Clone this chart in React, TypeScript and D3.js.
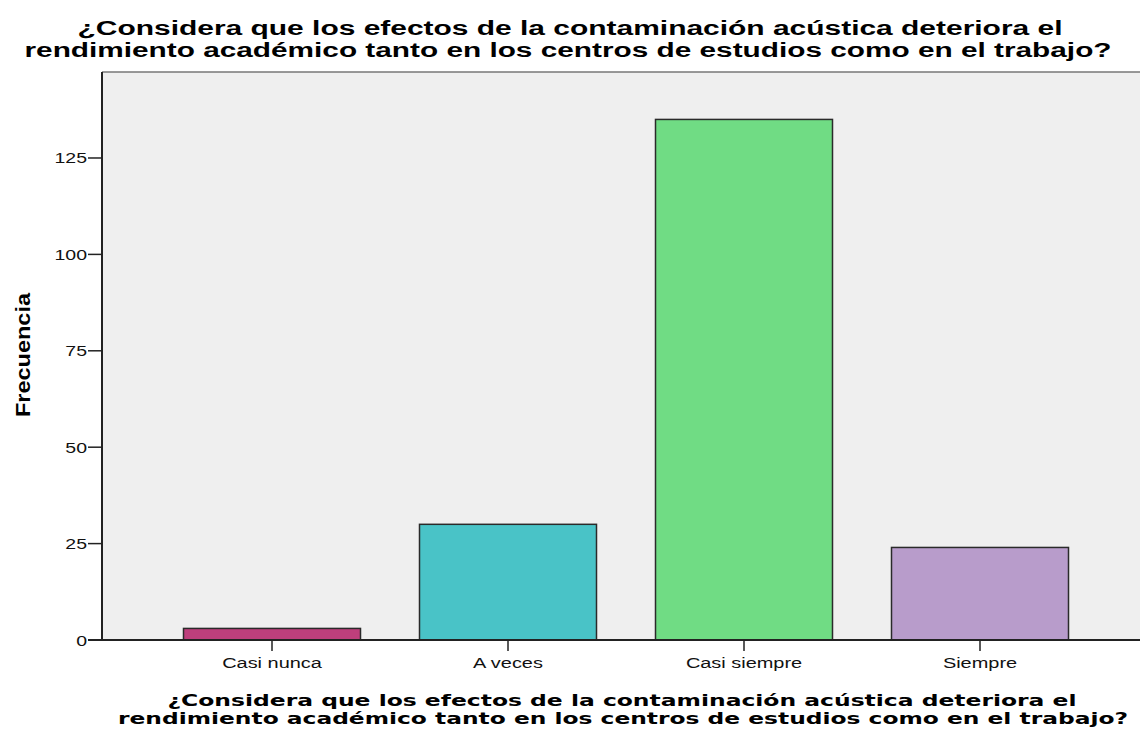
import React from "react";
import { scaleBand, scaleLinear } from "d3";

const categories = ["Casi nunca", "A veces", "Casi siempre", "Siempre"];
const frecuencias = [3, 30, 135, 24];
const colores = ["#be3f7c", "#49c3c7", "#70dc84", "#b89ccb"];
const yTicks = [0, 25, 50, 75, 100, 125];
const titulo = [
  "¿Considera que los efectos de la contaminación acústica deteriora el",
  "rendimiento académico tanto en los centros de estudios como en el trabajo?",
];

const W = 1140;
const H = 731;
const left = 102;
const top = 72;
const bottom = 640;
const sans = "'Liberation Sans', Arial, sans-serif";

// texto estirado en horizontal, como en la salida original
const Wide = ({ x, y, sx = 1.33, anchor = "middle", size = 15, weight = "normal", children }: any) => (
  <g transform={`translate(${x},${y}) scale(${sx},1)`}>
    <text textAnchor={anchor} fontSize={size} fontWeight={weight} fill="#111" fontFamily={sans}>
      {children}
    </text>
  </g>
);

const App = () => {
  const x = scaleBand().domain(categories).range([154, 1098]).padding(0);
  const y = scaleLinear().domain([0, 147.3]).range([bottom, top]);
  const barW = x.bandwidth() * 0.75;

  return (
    <svg width={W} height={H} style={{ position: "absolute", left: 0, top: 0 }}>
      <rect x={0} y={0} width={W} height={H} fill="#fff" />
      <rect x={left} y={top} width={W - left} height={bottom - top} fill="#efefef" />
      <line x1={left} x2={W} y1={top} y2={top} stroke="#777" strokeWidth={1.5} />

      {/* titulo */}
      <g fontFamily={sans} fontWeight="bold" fontSize={20} fill="#000">
        <text x={570} y={35} textAnchor="middle" textLength={985} lengthAdjust="spacingAndGlyphs">
          {titulo[0]}
        </text>
        <text x={568} y={57} textAnchor="middle" textLength={1087} lengthAdjust="spacingAndGlyphs">
          {titulo[1]}
        </text>
      </g>

      {/* barras */}
      {frecuencias.map((v, i) => {
        const cx = x(categories[i])! + x.bandwidth() / 2;
        return (
          <rect
            key={i}
            x={cx - barW / 2}
            y={y(v)}
            width={barW}
            height={bottom - y(v)}
            fill={colores[i]}
            stroke="#2a2a2a"
            strokeWidth={1.5}
          />
        );
      })}

      {/* eje y */}
      <line x1={left} x2={left} y1={top} y2={bottom} stroke="#222" strokeWidth={2} />
      {yTicks.map((t) => (
        <g key={t}>
          <line x1={left - 14} x2={left} y1={y(t)} y2={y(t)} stroke="#222" strokeWidth={1.5} />
          <Wide x={left - 15} y={y(t) + 5.5} anchor="end" sx={1.3}>
            {t}
          </Wide>
        </g>
      ))}
      <text
        transform={`translate(30,355) rotate(-90)`}
        textAnchor="middle"
        fontWeight="bold"
        fontSize={21}
        fontFamily={sans}
        textLength={124}
        lengthAdjust="spacingAndGlyphs"
        fill="#000"
      >
        Frecuencia
      </text>

      {/* eje x */}
      <line x1={left - 14} x2={W} y1={bottom} y2={bottom} stroke="#222" strokeWidth={2} />
      {categories.map((c) => {
        const cx = x(c)! + x.bandwidth() / 2;
        return (
          <g key={c}>
            <line x1={cx} x2={cx} y1={bottom} y2={bottom + 11} stroke="#222" strokeWidth={1.5} />
            <Wide x={cx} y={668}>
              {c}
            </Wide>
          </g>
        );
      })}
      <g fontFamily="'DejaVu Sans', Verdana, sans-serif" fontWeight="bold" fontSize={16} fill="#000">
        <text x={622} y={706} textAnchor="middle" textLength={909} lengthAdjust="spacingAndGlyphs">
          {titulo[0]}
        </text>
        <text x={623} y={724} textAnchor="middle" textLength={1010} lengthAdjust="spacingAndGlyphs">
          {titulo[1]}
        </text>
      </g>
    </svg>
  );
};

export default App;
